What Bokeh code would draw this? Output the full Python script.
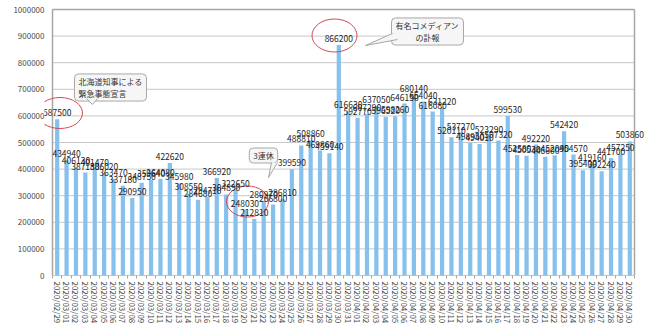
from bokeh.plotting import figure
from bokeh.models import Range1d, FixedTicker, NumeralTickFormatter, Label, ColumnDataSource
from bokeh.embed import file_html
from bokeh.resources import INLINE

dates = [
    "2020/02/29",
    "2020/03/01", "2020/03/02", "2020/03/03", "2020/03/04", "2020/03/05",
    "2020/03/06", "2020/03/07", "2020/03/08", "2020/03/09", "2020/03/10",
    "2020/03/11", "2020/03/12", "2020/03/13", "2020/03/14", "2020/03/15",
    "2020/03/16", "2020/03/17", "2020/03/18", "2020/03/19", "2020/03/20",
    "2020/03/21", "2020/03/22", "2020/03/23", "2020/03/24", "2020/03/25",
    "2020/03/26", "2020/03/27", "2020/03/28", "2020/03/29", "2020/03/30",
    "2020/03/31",
    "2020/04/01", "2020/04/02", "2020/04/03", "2020/04/04", "2020/04/05",
    "2020/04/06", "2020/04/07", "2020/04/08", "2020/04/09", "2020/04/10",
    "2020/04/11", "2020/04/12", "2020/04/13", "2020/04/14", "2020/04/15",
    "2020/04/16", "2020/04/17", "2020/04/18", "2020/04/19", "2020/04/20",
    "2020/04/21", "2020/04/22", "2020/04/23", "2020/04/24", "2020/04/25",
    "2020/04/26", "2020/04/27", "2020/04/28", "2020/04/29", "2020/04/30",
]

counts = [
    587500,
    434940, 406130, 387180, 401470, 386020, 363470, 337180, 290950, 348750, 359640,
    364080, 422620, 345980, 308550, 284680, 294710, 366920, 304890, 322650, 248030,
    212810, 280970, 266800, 286810, 399590, 488810, 508860, 469860, 459140, 866200,
    616630,
    592770, 607290, 637050, 596520, 598260, 646150, 680140, 654040, 616080, 631220,
    520110, 537270, 498950, 494010, 523290, 507320, 599530, 452580, 450530, 492220,
    446600, 452090, 542420, 454570, 395400, 419160, 392240, 441700, 457250, 503860,
]

y_ticks = [0, 100000, 200000, 300000, 400000, 500000, 600000, 700000, 800000, 900000, 1000000]

notes = ["北海道知事による\n緊急事態宣言", "有名コメディアン\nの訃報", "3連休"]

# canvas / plot-area geometry in pixels
W, H = 650, 329
AX_L, AX_R, AX_T, AX_B = 52, 634, 9, 275      # visible plot area
FR_L, FR_R, FR_T = 44, 646, 4                  # bokeh frame (a bit larger so labels are not clipped)
YMAX = 1000000
N = len(dates)
FONT = "Noto Sans CJK JP"
PXU = (AX_R - AX_L) / N                        # pixels per category
PYU = (AX_B - AX_T) / YMAX                     # pixels per count


def dx(px):
    return -0.5 + (px - AX_L) / PXU


def dy(py):
    return (AX_B - py) / PYU


idx = list(range(N))
src = ColumnDataSource(dict(x=idx, top=counts))

p = figure(width=W, height=H, output_backend="svg", toolbar_location=None,
           x_range=Range1d(dx(FR_L), dx(FR_R)), y_range=Range1d(0, dy(FR_T)),
           min_border_left=FR_L, min_border_right=W - FR_R, min_border_top=FR_T,
           min_border_bottom=H - AX_B)
p.background_fill_color = "white"
p.border_fill_color = "white"
p.outline_line_color = None

# grid lines & plot-area border drawn over the visible plot area only
n_t = len(y_ticks)
p.segment(x0=[-0.5] * n_t, x1=[N - 0.5] * n_t, y0=y_ticks, y1=y_ticks,
          line_color="#c8c8c8", line_width=1, level="underlay")
p.segment(x0=[-0.5, N - 0.5, -0.5], x1=[N - 0.5, N - 0.5, -0.5],
          y0=[YMAX, 0, 0], y1=[YMAX, YMAX, YMAX],
          line_color="#a6a6a6", line_width=1.5, level="underlay")
p.segment(x0=[-0.5], x1=[N - 0.5], y0=[0], y1=[0], line_color="#a6a6a6", line_width=1)

p.vbar(x="x", top="top", width=0.45, source=src, fill_color="#86C0EC", line_color=None)

# data labels
for i, v in zip(idx, counts):
    p.add_layout(Label(x=i, y=v, text=str(v), text_align="center", text_baseline="bottom",
                       y_offset=3, text_font=FONT, text_font_size="8.5px",
                       text_color="#1e1e1e"))

# axes
p.xaxis.ticker = FixedTicker(ticks=idx, minor_ticks=[i + 0.5 for i in range(-1, N)])
p.xaxis.major_label_overrides = {i: d for i, d in enumerate(dates)}
p.xaxis.major_label_orientation = "vertical"
p.xaxis.major_tick_out = 0
p.xaxis.major_tick_in = 0
p.xaxis.minor_tick_out = 3
p.xaxis.minor_tick_in = 0
p.xaxis.minor_tick_line_color = "#a6a6a6"
p.xaxis.major_label_standoff = 3
p.xaxis.axis_line_color = None

p.yaxis.ticker = FixedTicker(ticks=y_ticks)
p.yaxis.formatter = NumeralTickFormatter(format="0")
p.yaxis.major_tick_out = 0
p.yaxis.major_tick_in = 0
p.yaxis.minor_tick_line_color = None
p.yaxis.major_label_standoff = 0
p.yaxis.axis_line_color = None

p.axis.major_label_text_font = FONT
p.axis.major_label_text_font_size = "8px"
p.axis.major_label_text_color = "#4a4a4a"

p.xgrid.visible = False
p.ygrid.visible = False

# red ellipses
p.ellipse(x=[dx(59.5), dx(334), dx(247)], y=[dy(112.5), dy(35), dy(201)],
          width=[45, 45, 42], height=[31, 33, 31], width_units="screen", height_units="screen",
          fill_color=None, line_color="#d24a58", line_width=1)

# callouts
box_style = dict(text_font=FONT, text_font_size="8px", text_color="#333333",
                 background_fill_color="#f6f6f6", border_line_color="#a8a8a8",
                 border_radius=4, padding=(4, 2), text_baseline="middle",
                 text_line_height=1.1)
p.add_layout(Label(x=dx(74), y=dy(87), text=notes[0], text_align="left", **box_style))
p.add_layout(Label(x=dx(427), y=dy(31), text=notes[1], text_align="center", **box_style))
p.add_layout(Label(x=dx(263), y=dy(155), text=notes[2], text_align="center", **box_style))

tails = [
    [(86, 98), (92, 104), (97, 98)],
    [(392, 33), (365, 45), (397, 39)],
    [(271, 162), (268, 177), (277, 162)],
]
txs = [[dx(a) for a, b in t] for t in tails]
tys = [[dy(b) for a, b in t] for t in tails]
p.patches(xs=txs, ys=tys, fill_color="#f6f6f6", line_color=None, level="overlay")
p.multi_line(xs=txs, ys=tys, line_color="#a8a8a8", line_width=1, level="overlay")

open("out.html", "w").write(file_html(p, INLINE))
